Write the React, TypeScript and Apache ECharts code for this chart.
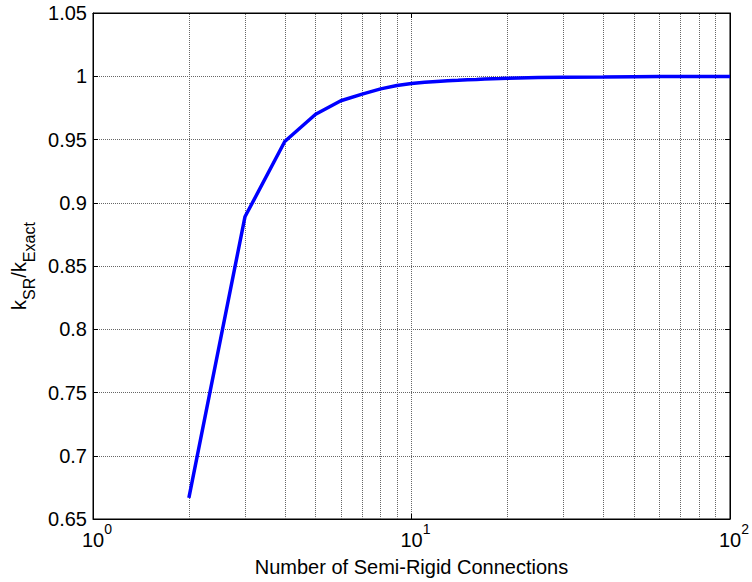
import React, { useEffect, useRef } from "react";
import * as echarts from "echarts";

const connections = [2, 3, 4, 5, 6, 7, 8, 9, 10, 11, 12, 13, 14, 15, 16, 17, 18, 19, 20, 25, 30, 40, 50, 60, 70, 80, 90, 100];
const ratio = [0.6667, 0.8889, 0.9484, 0.9700, 0.9806, 0.9859, 0.9900, 0.9927, 0.9942, 0.9952, 0.9959, 0.9964, 0.9968, 0.9972, 0.9975, 0.9978, 0.9980, 0.9982, 0.9984, 0.9990, 0.9993, 0.9995, 0.9997, 0.9998, 0.9998, 0.9999, 0.9999, 0.9999];
const minorGridX = [2, 3, 4, 5, 6, 7, 8, 9, 20, 30, 40, 50, 60, 70, 80, 90];
const xTickLabels: Record<string, string> = { "1": "{p|}{b|10}{s|0}", "10": "{p|}{b|10}{s|1}", "100": "{p|}{b|10}{s|2}" };

const FONT = "Liberation Sans, Arial, sans-serif";

export default function App() {
  const ref = useRef<HTMLDivElement>(null);
  useEffect(() => {
    if (!ref.current) return;
    const chart = echarts.init(ref.current, undefined, { renderer: "svg" });
    const gridLine = { show: true, lineStyle: { color: "#666666", type: [1, 1] as any, width: 1 } };
    chart.setOption({
      animation: false,
      backgroundColor: "#fff",
      grid: { left: 93, top: 13, right: 17, bottom: 60, show: true, borderColor: "#000", borderWidth: 1 },
      xAxis: [
        {
          type: "log",
          logBase: 10,
          min: 1,
          max: 100,
          name: "Number of Semi-Rigid Connections",
          nameLocation: "middle",
          nameGap: 38,
          nameTextStyle: { fontFamily: FONT, fontSize: 20, color: "#000" },
          axisLine: { show: true, lineStyle: { color: "#000", width: 1 } },
          axisTick: { show: true, inside: true, length: 5, lineStyle: { color: "#000" } },
          minorTick: { show: false },
          splitLine: gridLine,
          axisLabel: {
            margin: 3,
            formatter: (v: number) => xTickLabels[String(Math.round(v))] ?? "",
            rich: {
              p: { width: 8, lineHeight: 28 },
              b: { fontFamily: FONT, fontSize: 20, color: "#000", lineHeight: 28, verticalAlign: "bottom" },
              s: { fontFamily: FONT, fontSize: 14, color: "#000", lineHeight: 28, verticalAlign: "top" },
            },
          },
        },
        {
          type: "log",
          logBase: 10,
          min: 1,
          max: 100,
          position: "top",
          axisLine: { show: true, lineStyle: { color: "#000" } },
          axisTick: { show: true, inside: true, length: 5, lineStyle: { color: "#000" } },
          axisLabel: { show: false },
          splitLine: { show: false },
        },
      ],
      yAxis: [
        {
          type: "value",
          min: 0.65,
          max: 1.05,
          interval: 0.05,
          name: "{k|k}{sub|SR}{k|/k}{sub|Exact}",
          nameLocation: "middle",
          nameRotate: 90,
          nameGap: 55,
          nameTextStyle: {
            rich: {
              k: { fontFamily: FONT, fontSize: 20, color: "#000", lineHeight: 28, verticalAlign: "top" },
              sub: { fontFamily: FONT, fontSize: 16, color: "#000", lineHeight: 28, verticalAlign: "bottom" },
            },
          },
          axisLine: { show: true, lineStyle: { color: "#000", width: 1 } },
          axisTick: { show: true, inside: true, length: 5, lineStyle: { color: "#000" } },
          splitLine: gridLine,
          axisLabel: {
            margin: 6,
            fontFamily: FONT,
            fontSize: 20,
            color: "#000",
            formatter: (v: number) => String(Math.round(v * 100) / 100),
          },
        },
        {
          type: "value",
          min: 0.65,
          max: 1.05,
          interval: 0.05,
          position: "right",
          axisLine: { show: true, lineStyle: { color: "#000" } },
          axisTick: { show: true, inside: true, length: 5, lineStyle: { color: "#000" } },
          axisLabel: { show: false },
          splitLine: { show: false },
        },
      ],
      series: [
        {
          type: "line",
          data: connections.map((c, i) => [c, ratio[i]]),
          showSymbol: false,
          symbol: "none",
          lineStyle: { color: "#0000ff", width: 3.5 },
          z: 5,
          markLine: {
            silent: true,
            symbol: ["none", "none"],
            label: { show: false },
            lineStyle: { color: "#666666", type: [1, 1] as any, width: 1 },
            z: 1,
            data: minorGridX.map((x) => ({ xAxis: x })),
          },
        },
      ],
    });
    return () => chart.dispose();
  }, []);
  return <div ref={ref} style={{ width: 752, height: 582, position: "absolute", left: 0, top: 0 }} />;
}
